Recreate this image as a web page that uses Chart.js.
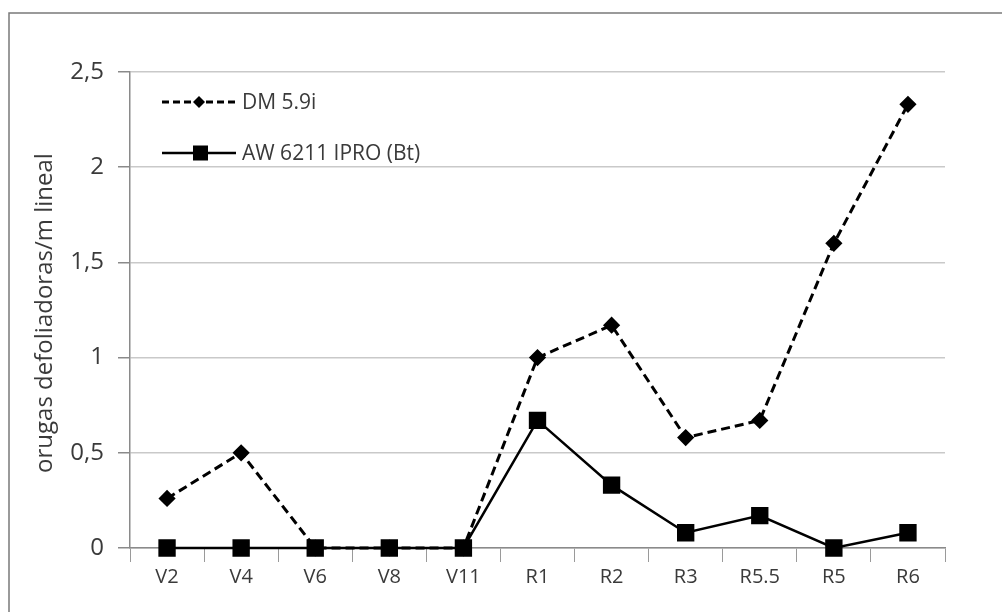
<!DOCTYPE html>
<html><head><meta charset="utf-8">
<script src="https://cdn.jsdelivr.net/npm/chart.js@4"></script>
<style>html,body{margin:0;padding:0;background:#fff}#wrap{width:1002px;height:612px;position:relative}</style>
</head><body><div id="wrap"><canvas id="c" width="1002" height="612"></canvas></div>
<script>
const categories = ["V2","V4","V6","V8","V11","R1","R2","R3","R5.5","R5","R6"];
const dmValues = [0.26,0.5,0,0,0,1.0,1.17,0.58,0.67,1.6,2.33];
const awValues = [0,0,0,0,0,0.67,0.33,0.08,0.17,0,0.08];
const seriesNames = ["DM 5.9i","AW 6211 IPRO (Bt)"];
const yTicks = [0,0.5,1,1.5,2,2.5];
const yTitle = "orugas defoliadoras/m lineal";
const FONT = "'Open Sans', sans-serif";
const TEXT = '#3a3a3a';

const framePlugin = {
  id:'frame',
  beforeDraw(chart){
    const ctx=chart.ctx; ctx.save();
    ctx.fillStyle='#fff'; ctx.fillRect(0,0,chart.width,chart.height);
    ctx.strokeStyle='#7a7a7a'; ctx.lineWidth=1.5;
    ctx.beginPath(); ctx.moveTo(9,620); ctx.lineTo(9,13); ctx.lineTo(1010,13); ctx.stroke();
    ctx.restore();
  }
};
const textPlugin = {
  id:'customText',
  afterDraw(chart){
    const ctx=chart.ctx; ctx.save();
    const a=chart.chartArea;
    ctx.save();
    ctx.translate(45,313);
    ctx.rotate(-Math.PI/2);
    ctx.fillStyle=TEXT; ctx.font='24px '+FONT; ctx.textAlign='center'; ctx.textBaseline='middle';
    ctx.fillText(yTitle,0,0);
    ctx.restore();
    const items=[{y:102,dash:[7,4],w:3,style:'diamond'},{y:153,dash:[],w:2.5,style:'square'}];
    items.forEach((it,i)=>{
      ctx.strokeStyle='#000'; ctx.lineWidth=it.w; ctx.setLineDash(it.dash);
      ctx.beginPath(); ctx.moveTo(162,it.y); ctx.lineTo(236,it.y); ctx.stroke();
      ctx.setLineDash([]); ctx.fillStyle='#000';
      if(it.style==='diamond'){ctx.beginPath();ctx.moveTo(199,it.y-6);ctx.lineTo(205,it.y);ctx.lineTo(199,it.y+6);ctx.lineTo(193,it.y);ctx.closePath();ctx.fill();}
      else ctx.fillRect(193,it.y-7.5,15,15);
      ctx.fillStyle=TEXT; ctx.font='21px '+FONT; ctx.textBaseline='middle'; ctx.textAlign='left';
      ctx.fillText(seriesNames[i],242,it.y+1);
    });
    ctx.restore();
  }
};

new Chart(document.getElementById('c'),{
  type:'line',
  data:{labels:categories,datasets:[
    {label:seriesNames[0],data:dmValues,borderColor:'#000',backgroundColor:'#000',borderWidth:3,borderDash:[9,5],
     pointStyle:'rectRot',pointRadius:6.5,pointHoverRadius:6.5,tension:0,order:2,clip:false},
    {label:seriesNames[1],data:awValues,borderColor:'#000',backgroundColor:'#000',borderWidth:2.5,
     pointStyle:'rect',pointRadius:10.5,pointHoverRadius:10.5,tension:0,order:1,clip:false}
  ]},
  options:{
    responsive:false,animation:false,
    layout:{padding:{left:0,top:72,right:57,bottom:0}},
    plugins:{legend:{display:false},tooltip:{enabled:false}},
    scales:{
      x:{
        offset:true,
        grid:{offset:true,drawOnChartArea:false,drawTicks:true,tickLength:14,color:'#9a9a9a',lineWidth:1},
        border:{display:true,color:'#8a8a8a',width:1.5},
        ticks:{color:TEXT,font:{family:FONT,size:20},padding:3,maxRotation:0},
        afterFit(s){s.height=64;}
      },
      y:{
        min:0,max:2.5,
        afterBuildTicks(s){s.ticks=yTicks.map(v=>({value:v}));},
        grid:{color:'#c9c9c9',lineWidth:1.5,tickLength:12,tickColor:'#8a8a8a'},
        border:{display:true,color:'#8a8a8a',width:1.5},
        ticks:{color:TEXT,font:{family:FONT,size:24},padding:14,
          callback:v=>String(v).replace('.',',')},
        afterFit(s){s.width=130;}
      }
    }
  },
  plugins:[framePlugin,textPlugin]
});
</script></body></html>
